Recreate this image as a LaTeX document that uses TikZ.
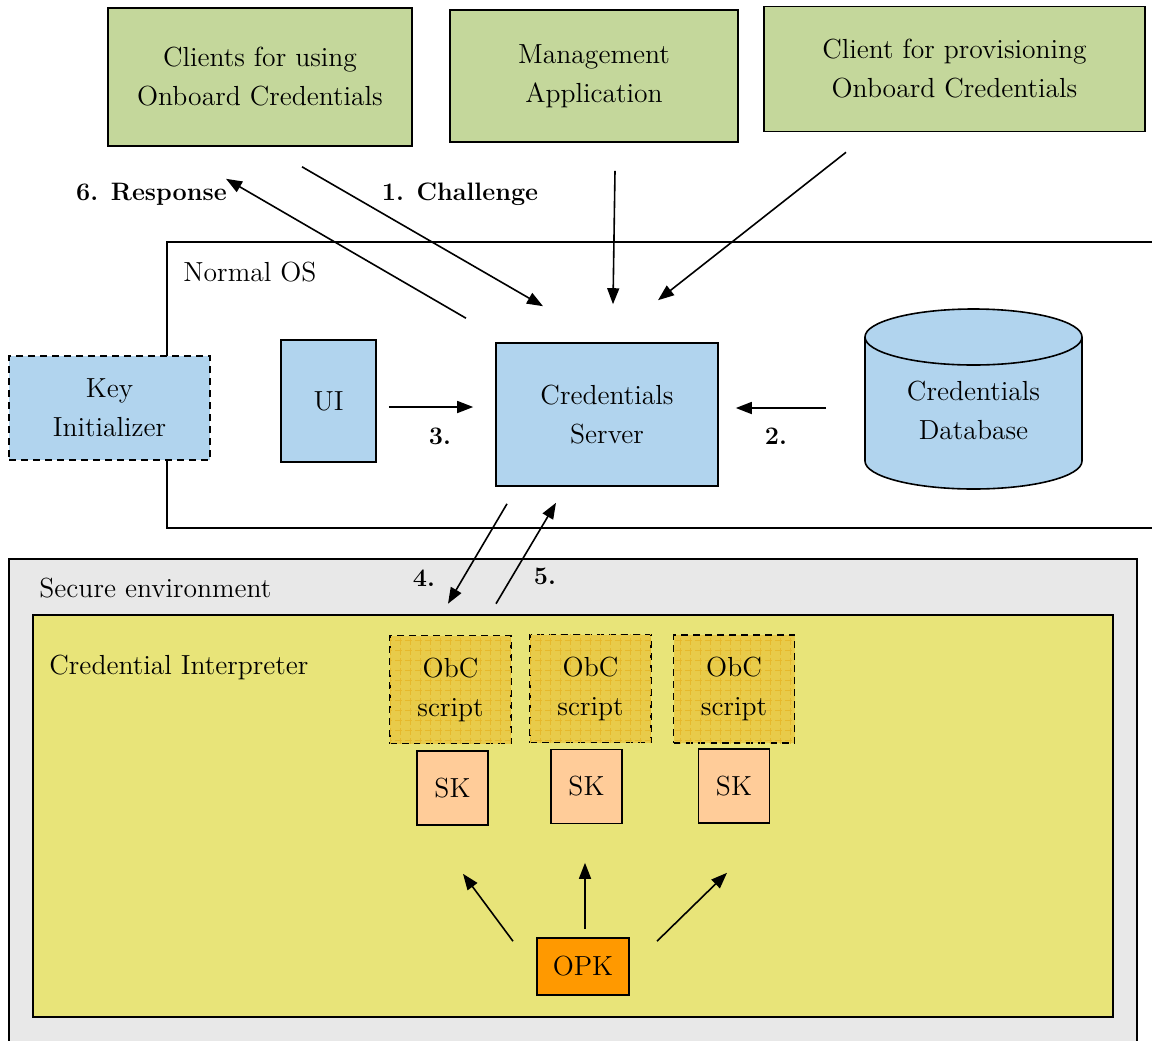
\documentclass[tikz,border=0pt]{standalone}
\usetikzlibrary{calc,arrows.meta,patterns.meta}
\definecolor{boxgreen}{HTML}{C4D79B}
\definecolor{boxblue}{HTML}{B1D4EE}
\definecolor{envgray}{HTML}{E8E8E8}
\definecolor{interpyellow}{HTML}{E8E479}
\definecolor{obcgold}{HTML}{E8CB4A}
\definecolor{obcgrid}{HTML}{E6B92C}
\definecolor{skpeach}{HTML}{FFCC99}
\definecolor{opkorange}{HTML}{FF9900}
\begin{document}
\begin{tikzpicture}[x=0.5pt, y=-0.5pt, line width=0.8pt,
  font=\rmfamily\fontsize{13.8}{19.5}\selectfont,
  box/.style={draw, align=center, inner sep=0pt},
  dashbox/.style={box, dashed, dash pattern=on 3.5pt off 2.5pt},
  arr/.style={-{Triangle[length=8pt, width=6pt]}},
  lbl/.style={font=\rmfamily\fontsize{12.6}{16}\selectfont\bfseries}]
\clip (0,0) rectangle (1152,1040);
\useasboundingbox (0,0) rectangle (1152,1040);
\fill[white] (0,0) rectangle (1152,1040);
\node[box, fill=boxgreen, minimum width=152pt, minimum height=69pt] (cl_use) at (260,77) {Clients for using\\Onboard Credentials};
\node[box, fill=boxgreen, minimum width=144pt, minimum height=66pt] (mgmt) at (594,76) {Management\\Application};
\node[box, fill=boxgreen, minimum width=190.5pt, minimum height=62.5pt] (cl_prov) at (954.5,69) {Client for provisioning\\Onboard Credentials};
\draw (167,242) rectangle (1170,528);
\node[anchor=west] (os_lbl) at (176,272) {Normal OS};
\node[dashbox, fill=boxblue, minimum width=100.5pt, minimum height=52pt] (key_init) at (109.5,408) {Key\\Initializer};
\node[box, fill=boxblue, minimum width=47.5pt, minimum height=61pt] (ui) at (328.5,401) {UI};
\node[box, fill=boxblue, minimum width=111pt, minimum height=71.5pt] (srv) at (607,414.5) {Credentials\\Server};
\fill[boxblue] (865,337) -- (865,461) arc[start angle=180, end angle=360, x radius=54.25pt, y radius=14pt] -- (1082,337) arc[start angle=0, end angle=180, x radius=54.25pt, y radius=14pt] -- cycle;
\draw (865,337) -- (865,461) arc[start angle=180, end angle=360, x radius=54.25pt, y radius=14pt] -- (1082,337) arc[start angle=0, end angle=360, x radius=54.25pt, y radius=14pt];
\node[align=center, inner sep=0pt, minimum width=108.5pt, minimum height=90pt] (db) at (973.5,410) {Credentials\\Database};
\draw[fill=envgray] (9,559) rectangle (1137,1060);
\node[anchor=west] (sec_lbl) at (32,588) {Secure environment};
\draw[fill=interpyellow] (33,615) rectangle (1113,1017);
\node[anchor=west] (int_lbl) at (42,667) {Credential Interpreter};
\foreach \n/\x/\y in {1/450.5/689.5, 2/590.5/688.5, 3/734/689}
  \node[dashbox, fill=obcgold, postaction={pattern={Hatch[angle=0, distance=5pt, line width=0.3pt]}, pattern color=obcgrid}, minimum width=60.5pt, minimum height=54pt] (obc_\n) at (\x,\y) {ObC\\script};
\foreach \n/\x/\y in {1/452.5/788, 2/586.5/786.5, 3/734/786}
  \node[box, fill=skpeach, minimum width=35.5pt, minimum height=37pt] (sk_\n) at (\x,\y) {SK};
\node[box, fill=opkorange, minimum width=46pt, minimum height=28.5pt] (opk) at (583,966.5) {OPK};
\draw[arr] ($(cl_use.south)+(42,20)$) -- ($(srv.north)+(-64,-36)$);
\draw[arr] ($(mgmt.south)+(21,28)$) -- ($(srv.north)+(6,-38)$);
\draw[arr] ($(cl_prov.south)+(-108.5,20)$) -- ($(srv.north)+(51,-42)$);
\draw[arr] ($(srv.north)+(-141,-24)$) -- ($(cl_use.south)+(-34,32)$);
\node[lbl] (chal_lbl) at (460,194) {1. Challenge};
\node[lbl] (resp_lbl) at (151.5,194) {6. Response};
\draw[arr] ($(ui.east)+(12,6)$) -- ($(srv.west)+(-22,-7.5)$);
\node[lbl] (ui_lbl) at (440,436) {3.};
\draw[arr] ($(db.west)+(-38,-2)$) -- ($(srv.east)+(17,-6.5)$);
\node[lbl] (db_lbl) at (776,436) {2.};
\draw[arr] ($(srv.south)+(-100,17)$) -- ($(obc_1.north)+(-2.5,-31)$);
\node[lbl] (req_lbl) at (424,578) {4.};
\draw[arr] ($(obc_1.north)+(45.5,-31)$) -- ($(srv.south)+(-51,16)$);
\node[lbl] (ret_lbl) at (545,576) {5.};
\draw[arr] ($(opk.north)+(-70,4)$) -- ($(sk_1.south)+(10.5,48)$);
\draw[arr] ($(opk.north)+(2,-8)$) -- ($(sk_2.south)+(-1.5,38.5)$);
\draw[arr] ($(opk.north)+(74,4)$) -- ($(sk_3.south)+(-7,49)$);
\end{tikzpicture}
\end{document}
